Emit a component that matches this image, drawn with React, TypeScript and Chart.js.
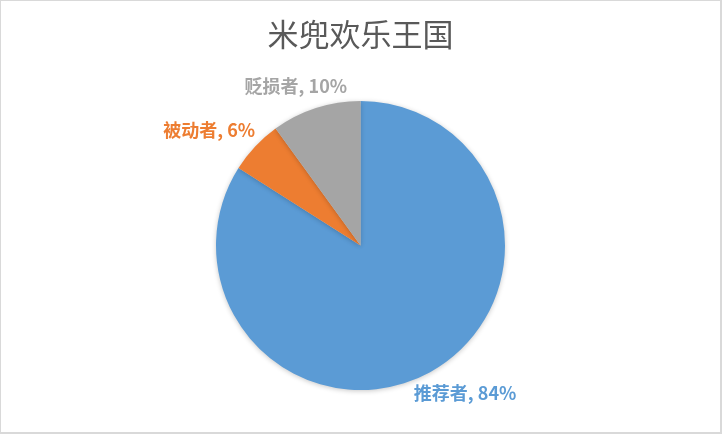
import React, { useEffect, useRef } from "react";
import { Chart, registerables } from "chart.js";

Chart.register(...registerables);

const categories: string[] = ["推荐者", "被动者", "贬损者"];
const values: number[] = [84, 6, 10];
const colors: string[] = ["#5B9BD5", "#ED7D31", "#A5A5A5"];
const chartTitle = "米兜欢乐王国";

// label nudges relative to the arc's outer point at its mid angle
const labelNudges: [number, number][] = [
  [35, 21],
  [-46, -16],
  [-20, -22],
];

const FONT = "'Noto Sans CJK SC', 'Noto Sans', sans-serif";

const shadowPlugin = {
  id: "pieShadow",
  beforeDatasetsDraw(chart: any) {
    const ctx = chart.ctx;
    ctx.save();
    ctx.shadowColor = "rgba(0,0,0,0.22)";
    ctx.shadowBlur = 5;
    ctx.shadowOffsetX = 0;
    ctx.shadowOffsetY = 1;
  },
  afterDatasetsDraw(chart: any) {
    chart.ctx.restore();
  },
};

const labelPlugin = {
  id: "sliceLabels",
  afterDraw(chart: any) {
    const ctx = chart.ctx;
    const meta = chart.getDatasetMeta(0);
    const total = values.reduce((a, b) => a + b, 0);
    meta.data.forEach((arc: any, i: number) => {
      const p = arc.getProps(["startAngle", "endAngle", "outerRadius", "x", "y"], true);
      const mid = (p.startAngle + p.endAngle) / 2;
      const ox = p.x + Math.cos(mid) * p.outerRadius + labelNudges[i][0];
      const oy = p.y + Math.sin(mid) * p.outerRadius + labelNudges[i][1];
      const pct = Math.round((values[i] / total) * 100);
      ctx.save();
      ctx.font = `bold 18px ${FONT}`;
      ctx.fillStyle = colors[i];
      ctx.textAlign = "center";
      ctx.textBaseline = "middle";
      ctx.fillText(`${categories[i]}, ${pct}%`, ox, oy);
      ctx.restore();
    });
  },
};

export default function App() {
  const ref = useRef<HTMLCanvasElement | null>(null);

  useEffect(() => {
    if (!ref.current) return;
    const chart = new Chart(ref.current, {
      type: "pie",
      data: {
        labels: categories,
        datasets: [
          {
            data: values,
            backgroundColor: colors,
            borderWidth: 0,
          },
        ],
      },
      options: {
        animation: false,
        responsive: false,
        devicePixelRatio: 1,
        layout: { padding: { left: 216, right: 217, top: 0, bottom: 44 } },
        plugins: {
          legend: { display: false },
          tooltip: { enabled: false },
          title: {
            display: true,
            text: chartTitle,
            color: "#595959",
            font: { family: FONT, size: 31, weight: "normal", lineHeight: 1.2 },
            padding: { top: 16, bottom: 47.8 },
          },
        },
      },
      plugins: [shadowPlugin, labelPlugin],
    });
    return () => chart.destroy();
  }, []);

  return (
    <div
      style={{
        position: "fixed",
        left: 0,
        top: 0,
        width: 722,
        height: 434,
        background: "#ffffff",
      }}
    >
      <canvas ref={ref} width={722} height={434} style={{ position: "absolute", left: 0, top: 0 }} />
      <div
        style={{
          position: "absolute",
          left: 0,
          top: 0,
          width: 722,
          height: 434,
          boxSizing: "border-box",
          borderTop: "1px solid #d9d9d9",
          borderLeft: "1px solid #d9d9d9",
          borderRight: "2px solid #d9d9d9",
          borderBottom: "2px solid #d9d9d9",
          pointerEvents: "none",
        }}
      />
    </div>
  );
}
